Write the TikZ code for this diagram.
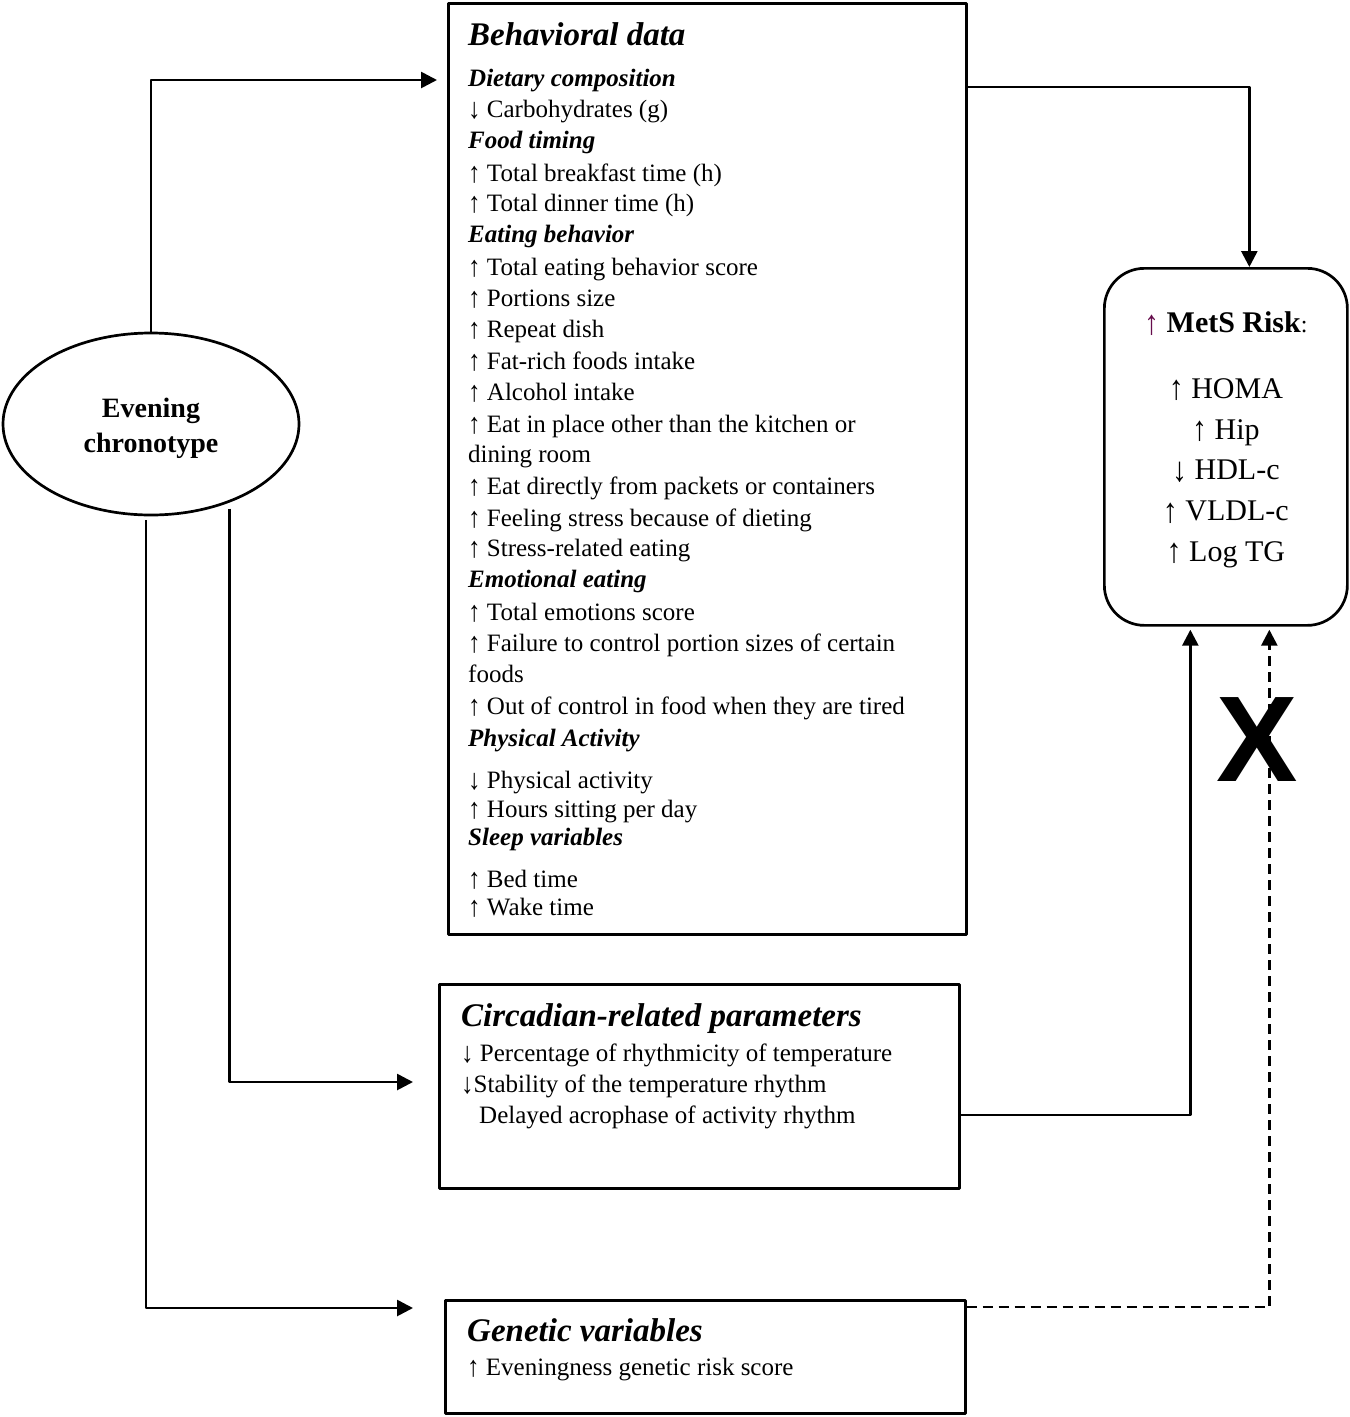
\documentclass[tikz,border=0pt]{standalone}
\usepackage{fontspec}
\setmainfont{Liberation Serif}
\newfontfamily\crossfont{Liberation Sans}
\usetikzlibrary{arrows.meta, positioning, shapes.geometric}
\definecolor{mets_arrow}{rgb}{0.40,0.05,0.30}
\newcommand{\arrup}{\raisebox{-0.05em}{\scalebox{1}[1.15]{↑}}}
\newcommand{\arrdn}{\raisebox{-0.05em}{\scalebox{1}[1.15]{↓}}}

\tikzset{
  box/.style={draw, line width=2.7pt, rectangle, anchor=north west, inner sep=0pt},
  conn/.style={line width=2.7pt, -{Triangle[length=16pt,width=16pt]}},
  title/.style={anchor=base west, inner sep=0pt, font=\fontsize{33}{40}\selectfont\bfseries\itshape},
  sub/.style={anchor=base west, inner sep=0pt, font=\fontsize{25}{31}\selectfont\bfseries\itshape},
  item/.style={anchor=base west, inner sep=0pt, font=\fontsize{25}{31}\selectfont},
}

\begin{document}
\begin{tikzpicture}[x=1pt,y=-1pt,line join=round]
	\useasboundingbox (0,0) rectangle (1350,1417);

	% boxes
	\node[draw, ellipse, line width=2.7pt, minimum width=296pt, minimum height=182pt] (eve) at (151,424) {};
	\node[align=center, inner sep=0pt, font=\fontsize{28}{35}\selectfont\bfseries] (evetxt)
	  at ([yshift=-4pt]eve.center) {Evening\\chronotype};
	\node[box, minimum width=518pt, minimum height=931pt] (beh) at (447,2) {};
	\node[box, minimum width=520pt, minimum height=204pt] (circ) at (438,983) {};
	\node[box, minimum width=520pt, minimum height=113pt] (gen) at (444,1299) {};
	\node[box, rounded corners=40pt, minimum width=243pt, minimum height=357pt] (mets) at (1103,267) {};
	\node[align=center, inner sep=0pt, font=\fontsize{30}{40.75}\selectfont] (metstxt)
	  at ([yshift=7pt]mets.center)
	  {{\color{mets_arrow}\arrup} \textbf{MetS Risk}{\fontsize{24}{30}\selectfont:}\\[25pt]
	   \arrup{} HOMA\\ \arrup{} Hip\\ \arrdn{} HDL-c\\ \arrup{} VLDL-c\\ \arrup{} Log TG};

	% behavioral data
	\node[title] (behtitle) at (468,45) {Behavioral data};
	\foreach \y/\t in {86/Dietary composition, 148/Food timing, 242/Eating behavior,
	    587/Emotional eating, 746/Physical Activity, 845/Sleep variables}
	  \node[sub] (bs\y) at (468,\y) {\t};
	\foreach \y/\t in {117/{\arrdn{} Carbohydrates (g)}, 181/{\arrup{} Total breakfast time (h)},
	    211/{\arrup{} Total dinner time (h)}, 275/{\arrup{} Total eating behavior score},
	    306/{\arrup{} Portions size}, 337/{\arrup{} Repeat dish}, 369/{\arrup{} Fat-rich foods intake},
	    400/{\arrup{} Alcohol intake}, 432/{\arrup{} Eat in place other than the kitchen or},
	    462/{dining room}, 494/{\arrup{} Eat directly from packets or containers},
	    526/{\arrup{} Feeling stress because of dieting}, 556/{\arrup{} Stress-related eating},
	    620/{\arrup{} Total emotions score}, 651/{\arrup{} Failure to control portion sizes of certain},
	    682/{foods}, 714/{\arrup{} Out of control in food when they are tired},
	    788/{\arrdn{} Physical activity}, 817/{\arrup{} Hours sitting per day},
	    887/{\arrup{} Bed time}, 915/{\arrup{} Wake time}}
	  \node[item] (bi\y) at (468,\y) {\t};

	% circadian and genetic
	\node[title] (circtitle) at (461,1026) {Circadian-related parameters};
	\node[item] (ci1) at (461,1061) {\arrdn{} Percentage of rhythmicity of temperature};
	\node[item] (ci2) at (461,1092) {\arrdn{}Stability of the temperature rhythm};
	\node[item] (ci3) at (479,1123) {Delayed acrophase of activity rhythm};
	\node[title] (gentitle) at (467,1341) {Genetic variables};
	\node[item] (gi1) at (467,1375) {\arrup{} Eveningness genetic risk score};

	% connectors
	\draw[conn, shorten >=10pt] (eve.north) |- (beh.west |- 0,80);
	\draw[conn, shorten <=6pt, shorten >=25pt] (eve.-45) |- (circ.west |- 0,1082);
	\draw[conn, shorten <=4pt, shorten >=31pt] ([xshift=-5pt]eve.south) |- (gen.west |- 0,1308);
	\draw[conn] (beh.east |- 0,87) -| ([xshift=23.5pt]mets.north);
	\draw[conn, shorten >=3pt] (circ.east |- 0,1115) -| ([xshift=-35.5pt]mets.south);
	\draw[conn, dash pattern=on 10pt off 6pt, shorten >=3pt] (gen.east |- 0,1307) -| ([xshift=43.5pt]mets.south);

	\node[inner sep=0pt, font=\crossfont\bfseries\fontsize{122}{122}\selectfont] (cross) at (1257,740) {X};
\end{tikzpicture}
\end{document}
